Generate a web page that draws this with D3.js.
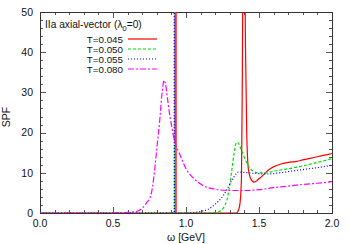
<!DOCTYPE html>
<html>
<head>
<meta charset="utf-8">
<script src="https://cdn.jsdelivr.net/npm/d3@7"></script>
<style>
  body { margin: 0; background: #fff; }
  svg { display: block; font-family: "Liberation Sans", Arial, sans-serif; }
</style>
</head>
<body>
<svg id="canvas"></svg>
<script>
// [omega, SPF]
const t045 = [[0,0],[0.930,0],[0.931,300],[0.932,0],[1.30,0],[1.345,0],[1.36,0.8],[1.37,2.4],[1.38,9],[1.386,35],[1.392,70],[1.40,70],[1.408,40],[1.416,20],[1.427,11],[1.44,8.8],[1.45,8.1],[1.465,7.7],[1.48,7.9],[1.50,8.5],[1.52,9.1],[1.545,10],[1.565,10.7],[1.60,11.5],[1.65,12.2],[1.70,12.6],[1.75,12.8],[1.80,13.2],[1.85,13.6],[1.90,14.0],[1.95,14.4],[2.0,14.8]];
const t050 = [[0,0],[0.923,0],[0.924,300],[0.925,0],[1.15,0],[1.20,0.1],[1.23,0.4],[1.26,1.5],[1.28,3.2],[1.30,7],[1.315,11],[1.33,15],[1.345,17.5],[1.355,17.6],[1.37,16.5],[1.385,15.2],[1.40,13.8],[1.42,12.2],[1.44,11],[1.46,10.4],[1.50,10],[1.55,10],[1.60,10.4],[1.70,11],[1.80,11.7],[1.90,12.6],[2.0,13.5]];
const t055 = [[0,0],[0.919,0],[0.920,300],[0.921,0],[1.0,0],[1.05,0.1],[1.10,0.4],[1.15,0.9],[1.20,2.2],[1.24,3.6],[1.28,5.8],[1.30,7.2],[1.325,8.8],[1.345,9.8],[1.36,10.2],[1.40,10.1],[1.45,9.9],[1.50,9.8],[1.55,9.7],[1.60,9.8],[1.70,10.3],[1.80,10.8],[1.90,11.3],[2.0,11.9]];
const t080 = [[0,0],[0.50,0],[0.55,0.05],[0.60,0.15],[0.65,0.3],[0.67,0.5],[0.70,1.2],[0.73,2.5],[0.76,4.5],[0.78,9],[0.80,16],[0.82,23],[0.835,29.5],[0.85,33],[0.86,32],[0.875,28],[0.89,24],[0.905,21],[0.915,19],[0.926,17.5],[0.927,300],[0.928,17.2],[0.947,15.5],[0.97,13.5],[1.0,11],[1.05,8.7],[1.10,7.2],[1.15,6.3],[1.20,5.9],[1.30,5.6],[1.40,5.6],[1.50,5.8],[1.60,6.3],[1.70,6.7],[1.80,7.1],[1.90,7.4],[2.0,7.8]];

const seriesNames = ["T=0.045", "T=0.050", "T=0.055", "T=0.080"];
const seriesData = [t045, t050, t055, t080];
const xTicks = [0, 0.5, 1.0, 1.5, 2.0];
const yTicks = [0, 10, 20, 30, 40, 50];
const titleText = "IIa axial-vector (λ";

const colors = ["#ff0000", "#00dd00", "#0000ff", "#ff00ff"];
const dashes = [null, "3,2", "1,2", "6,2,2,2"];

const width = 349, height = 244;
const pLeft = 40, pRight = 332, pTop = 12, pBottom = 213;

const svg = d3.select("#canvas").attr("width", width).attr("height", height);

const x = d3.scaleLinear().domain([0, 2]).range([pLeft, pRight]);
const y = d3.scaleLinear().domain([0, 50]).range([pBottom, pTop]);

svg.append("clipPath").attr("id", "clip")
  .append("rect").attr("x", pLeft).attr("y", pTop).attr("width", pRight - pLeft).attr("height", pBottom - pTop);

// ticks on all four sides, pointing inward
function drawTicks() {
  const g = svg.append("g").attr("stroke", "#555").attr("stroke-width", 1);
  d3.range(0, 2.0001, 0.1).forEach(v => {
    const major = Math.abs(v * 2 - Math.round(v * 2)) < 1e-6;
    const len = major ? 6 : 3;
    const px = Math.round(x(v)) + 0.5;
    g.append("line").attr("x1", px).attr("x2", px).attr("y1", pBottom).attr("y2", pBottom - len);
    g.append("line").attr("x1", px).attr("x2", px).attr("y1", pTop).attr("y2", pTop + len);
  });
  d3.range(0, 50.001, 2).forEach(v => {
    const major = v % 10 === 0;
    const len = major ? 6 : 3;
    const py = Math.round(y(v)) + 0.5;
    g.append("line").attr("y1", py).attr("y2", py).attr("x1", pLeft).attr("x2", pLeft + len);
    g.append("line").attr("y1", py).attr("y2", py).attr("x1", pRight).attr("x2", pRight - len);
  });
}
drawTicks();

svg.append("rect")
  .attr("x", pLeft + 0.5).attr("y", pTop + 0.5)
  .attr("width", pRight - pLeft).attr("height", pBottom - pTop)
  .attr("fill", "none").attr("stroke", "#333").attr("stroke-width", 1);

svg.append("g").selectAll("text").data(xTicks).join("text")
  .attr("x", d => x(d)).attr("y", 227)
  .attr("text-anchor", "middle").attr("font-size", 10.5).attr("fill", "#111")
  .text(d => d.toFixed(1));

svg.append("g").selectAll("text").data(yTicks).join("text")
  .attr("x", 33).attr("y", d => y(d) + 3.7)
  .attr("text-anchor", "end").attr("font-size", 10.5).attr("fill", "#111")
  .text(d => d);

svg.append("text")
  .attr("x", x(1.0)).attr("y", 241)
  .attr("text-anchor", "middle").attr("font-size", 10.5).attr("fill", "#111")
  .text("ω [GeV]");

svg.append("text")
  .attr("transform", "translate(10,117) rotate(-90)")
  .attr("text-anchor", "middle").attr("font-size", 10.5).attr("fill", "#111")
  .text("SPF");

const line = d3.line()
  .x(d => x(d[0]))
  .y(d => y(d[1]))
  .curve(d3.curveMonotoneX);

const curves = svg.append("g").attr("clip-path", "url(#clip)");
seriesData.forEach((data, i) => {
  curves.append("path")
    .attr("d", line(data))
    .attr("fill", "none")
    .attr("stroke", colors[i])
    .attr("stroke-width", 1.2)
    .attr("stroke-dasharray", dashes[i]);
});

// legend
const title = svg.append("text").attr("x", 45).attr("y", 28)
  .attr("font-size", 10.2).attr("fill", "#111");
title.append("tspan").text(titleText);
title.append("tspan").attr("dy", 3).attr("font-size", 7.5).text("0");
title.append("tspan").attr("dy", -3).text("=0)");

seriesNames.forEach((name, i) => {
  const ly = 39 + i * 10;
  svg.append("text")
    .attr("x", 123).attr("y", ly + 3.5)
    .attr("text-anchor", "end").attr("font-size", 9.8).attr("fill", "#111")
    .text(name);
  svg.append("line")
    .attr("x1", 128).attr("x2", 157).attr("y1", ly).attr("y2", ly)
    .attr("stroke", colors[i]).attr("stroke-width", 1.2)
    .attr("stroke-dasharray", dashes[i]);
});
</script>
</body>
</html>
